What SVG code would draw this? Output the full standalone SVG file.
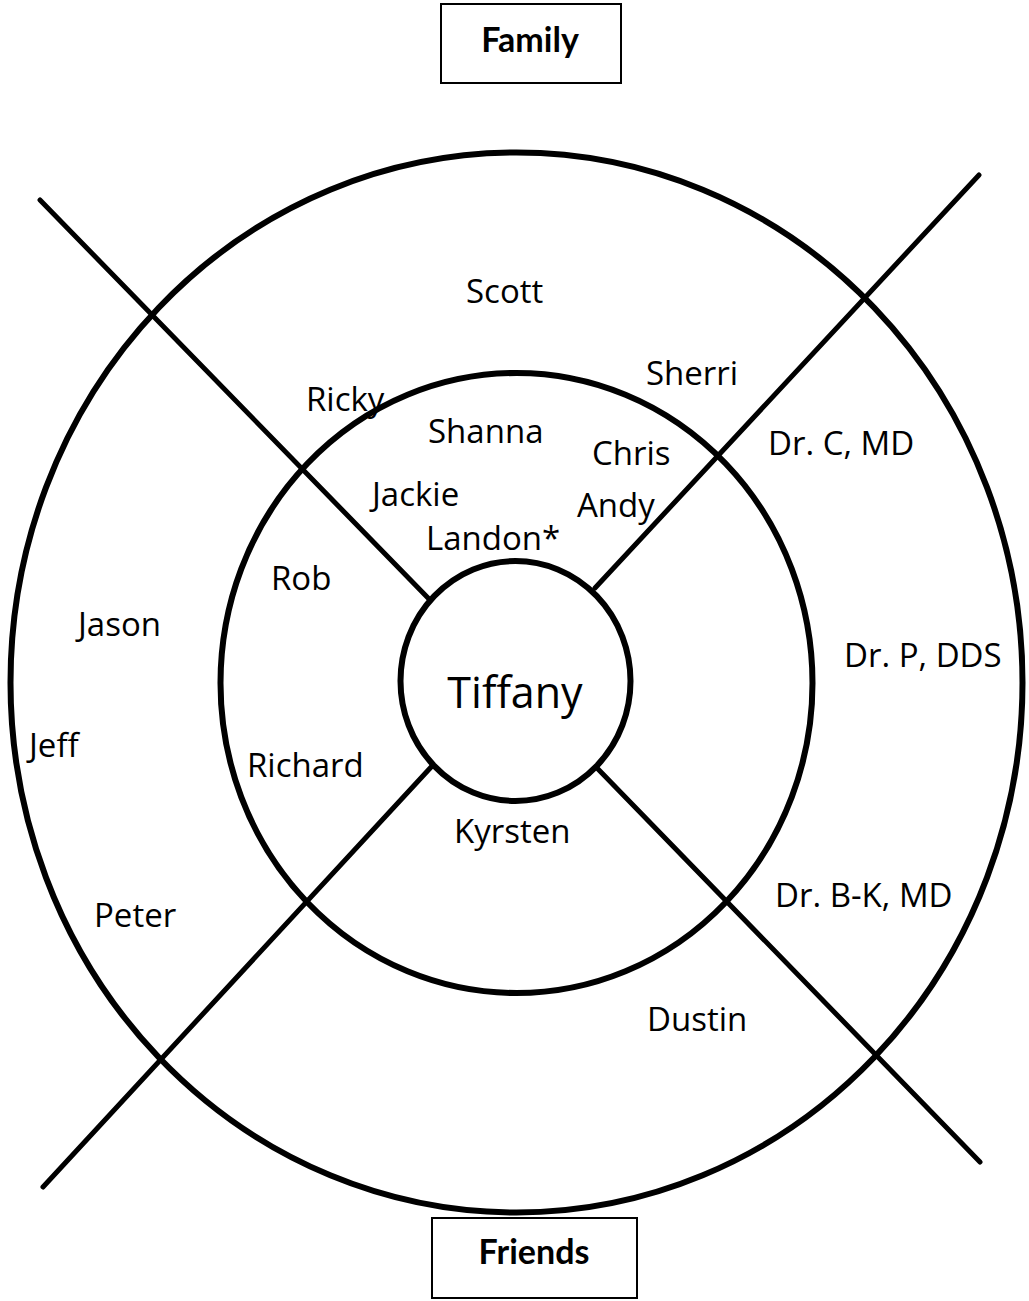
<svg xmlns="http://www.w3.org/2000/svg" width="1029" height="1301" viewBox="0 0 1029 1301">
  <style>
    .ring { fill: none; stroke: #000; stroke-width: 6; }
    .box { fill: #fff; stroke: #000; stroke-width: 2; }
    .line { stroke: #000; stroke-width: 5; stroke-linecap: round; fill: none; }
    .name { font-family: "Open Sans", "Noto Sans", sans-serif; font-size: 33px; fill: #000; }
    .center { font-family: "Open Sans", "Noto Sans", sans-serif; font-size: 43px; fill: #000; text-anchor: middle; }
    .label { font-family: Lato, "Liberation Sans", sans-serif; font-weight: bold; font-size: 34px; fill: #000; text-anchor: middle; }
  </style>
  <rect width="1029" height="1301" fill="#fff"/>

  <g id="rings">
    <ellipse id="outer-ring" class="ring" cx="516.5" cy="682.5" rx="506" ry="530"/>
    <ellipse id="middle-ring" class="ring" cx="516.5" cy="683" rx="296" ry="310"/>
  </g>

  <g id="connectors">
    <line class="line" x1="40" y1="200" x2="430" y2="600"/>
    <line class="line" x1="979" y1="175" x2="595" y2="588"/>
    <line class="line" x1="433" y1="765" x2="43" y2="1187"/>
    <line class="line" x1="597" y1="768" x2="980" y2="1162"/>
  </g>

  <g id="node-tiffany">
    <ellipse class="ring" cx="515.5" cy="681" rx="115" ry="120"/>
    <text class="center" x="515" y="708">Tiffany</text>
  </g>

  <g id="node-family">
    <rect class="box" x="441" y="4" width="180" height="79"/>
    <text class="label" x="530" y="52">Family</text>
  </g>
  <g id="node-friends">
    <rect class="box" x="432" y="1218" width="205" height="80"/>
    <text class="label" x="534" y="1264">Friends</text>
  </g>

  <g id="node-scott"><text class="name" x="466" y="303">Scott</text></g>
  <g id="node-sherri"><text class="name" x="646" y="385">Sherri</text></g>
  <g id="node-ricky"><text class="name" x="306" y="411">Ricky</text></g>
  <g id="node-shanna"><text class="name" x="428" y="443">Shanna</text></g>
  <g id="node-chris"><text class="name" x="592" y="465">Chris</text></g>
  <g id="node-jackie"><text class="name" x="372" y="506">Jackie</text></g>
  <g id="node-andy"><text class="name" x="577" y="517">Andy</text></g>
  <g id="node-landon"><text class="name" x="426" y="550">Landon*</text></g>
  <g id="node-rob"><text class="name" x="271" y="590">Rob</text></g>
  <g id="node-jason"><text class="name" x="78" y="636">Jason</text></g>
  <g id="node-jeff"><text class="name" x="29" y="757">Jeff</text></g>
  <g id="node-richard"><text class="name" x="247" y="777">Richard</text></g>
  <g id="node-kyrsten"><text class="name" x="454" y="843">Kyrsten</text></g>
  <g id="node-peter"><text class="name" x="94" y="927">Peter</text></g>
  <g id="node-dustin"><text class="name" x="647" y="1031">Dustin</text></g>
  <g id="node-drc"><text class="name" x="768" y="455">Dr. C, MD</text></g>
  <g id="node-drp"><text class="name" x="844" y="667">Dr. P, DDS</text></g>
  <g id="node-drbk"><text class="name" x="775" y="907">Dr. B-K, MD</text></g>
</svg>
